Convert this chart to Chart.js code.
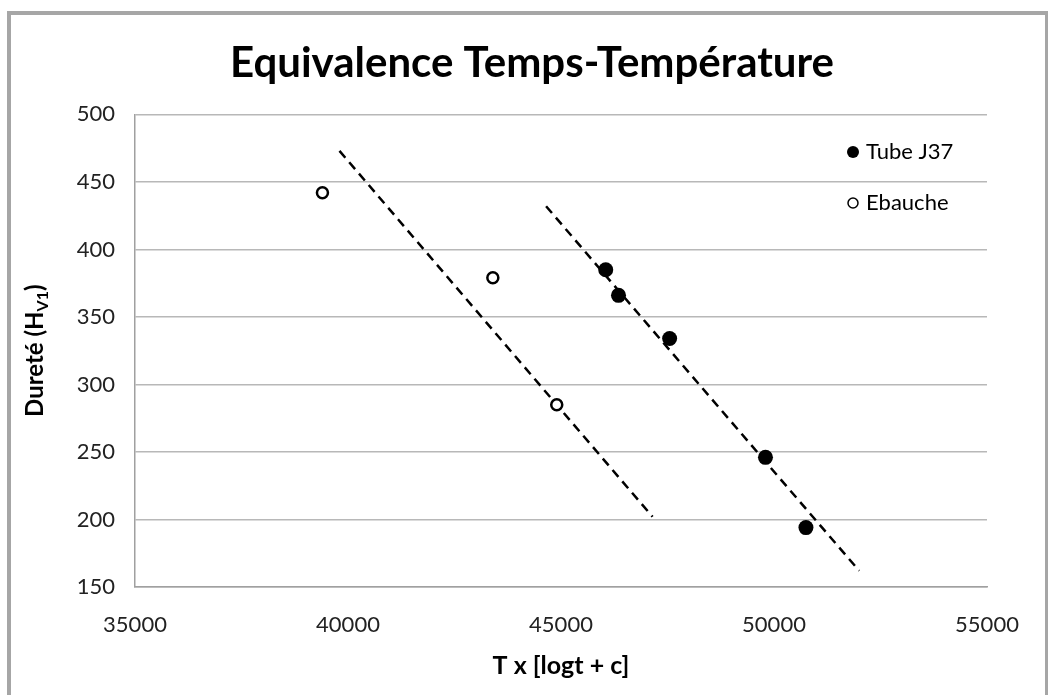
<!DOCTYPE html>
<html>
<head>
<meta charset="utf-8">
<script src="https://cdn.jsdelivr.net/npm/chart.js@4.4.0/dist/chart.umd.min.js"></script>
<style>
body { margin: 0; background: #fff; }
#frame { position: absolute; left: 7px; top: 11px; width: 1034px; height: 720px; border: 4px solid #a6a6a6; }
#wrap { position: absolute; left: 0; top: 0; width: 1048px; height: 695px; }
</style>
</head>
<body>
<div id="frame"></div>
<div id="wrap"><canvas id="chart"></canvas></div>
<script>
var chartTitle = 'Equivalence Temps-Température';
var xTitle = 'T x [logt + c]';

var tubeX = [46050, 46350, 47550, 49800, 50750];
var tubeY = [385, 366, 334, 246, 194];
var ebaucheX = [39400, 43400, 44900];
var ebaucheY = [442, 379, 285];

// trend lines, end points
var tubeTrendX = [44650, 52000];
var tubeTrendY = [432, 162];
var ebaucheTrendX = [39800, 47150];
var ebaucheTrendY = [473, 202];

var xTicks = [35000, 40000, 45000, 50000, 55000];
var yTicks = [150, 200, 250, 300, 350, 400, 450, 500];

function toPoints(xs, ys) {
    return xs.map(function (x, i) { return { x: x, y: ys[i] }; });
}

var FONT = 'Lato, "Open Sans", sans-serif';

// y title with subscript, and the legend inside the plot
var overlay = {
    id: 'overlay',
    afterDraw: function (chart) {
        var ctx = chart.ctx;
        ctx.save();
        ctx.fillStyle = '#000';
        ctx.textBaseline = 'alphabetic';

        // y axis title: Dureté (H V1 )
        var area = chart.chartArea;
        ctx.translate(43, (area.top + area.bottom) / 2);
        ctx.rotate(-Math.PI / 2);
        var big = 'bold 24px ' + FONT, small = 'bold 16px ' + FONT;
        ctx.font = big;
        var w1 = ctx.measureText('Dureté (H').width;
        var w3 = ctx.measureText(')').width;
        ctx.font = small;
        var w2 = ctx.measureText('V1').width;
        var x0 = -(w1 + w2 + w3) / 2;
        ctx.font = big;
        ctx.fillText('Dureté (H', x0, 0);
        ctx.font = small;
        ctx.fillText('V1', x0 + w1, 5);
        ctx.font = big;
        ctx.fillText(')', x0 + w1 + w2, 0);
        ctx.setTransform(1, 0, 0, 1, 0, 0);

        // legend
        ctx.font = '22px ' + FONT;
        ctx.textBaseline = 'middle';
        ctx.fillStyle = '#000';
        ctx.beginPath();
        ctx.arc(853, 152, 6, 0, Math.PI * 2);
        ctx.fill();
        ctx.fillText('Tube J37', 866, 152);
        ctx.beginPath();
        ctx.arc(853, 203, 5, 0, Math.PI * 2);
        ctx.lineWidth = 1.5;
        ctx.strokeStyle = '#000';
        ctx.stroke();
        ctx.fillText('Ebauche', 866, 203);
        ctx.restore();
    }
};

var chart = new Chart(document.getElementById('chart'), {
    type: 'scatter',
    data: {
        datasets: [{
            label: 'Tube J37',
            data: toPoints(tubeX, tubeY),
            backgroundColor: '#000',
            borderColor: '#000',
            pointRadius: 7.5,
            pointBorderWidth: 0
        }, {
            label: 'Ebauche',
            data: toPoints(ebaucheX, ebaucheY),
            backgroundColor: '#fff',
            borderColor: '#000',
            pointRadius: 5.5,
            pointBorderWidth: 2.5
        }, {
            label: 'Tendance Tube J37',
            data: toPoints(tubeTrendX, tubeTrendY),
            showLine: true,
            borderColor: '#000',
            borderWidth: 2.5,
            borderDash: [9, 6],
            pointRadius: 0
        }, {
            label: 'Tendance Ebauche',
            data: toPoints(ebaucheTrendX, ebaucheTrendY),
            showLine: true,
            borderColor: '#000',
            borderWidth: 2.5,
            borderDash: [9, 6],
            pointRadius: 0
        }]
    },
    options: {
        responsive: true,
        maintainAspectRatio: false,
        animation: false,
        layout: { padding: { left: 16, right: 0, top: 0, bottom: 0 } },
        plugins: {
            legend: { display: false },
            tooltip: { enabled: false },
            title: {
                display: true,
                text: chartTitle,
                color: '#000',
                font: { family: FONT, size: 42, weight: 'bold' },
                padding: { top: 38, bottom: 26 }
            }
        },
        scales: {
            x: {
                type: 'linear',
                min: 35000,
                max: 55000,
                afterBuildTicks: function (s) { s.ticks = xTicks.map(function (v) { return { value: v }; }); },
                afterFit: function (s) { s.height = 108; s.paddingRight = 61; },
                grid: { display: false },
                border: { display: true, color: '#a0a0a0', width: 1.5 },
                ticks: {
                    color: '#222',
                    font: { family: FONT, size: 22 },
                    padding: 17,
                    maxRotation: 0,
                    callback: function (v) { return String(v); }
                },
                title: {
                    display: true,
                    text: xTitle,
                    color: '#000',
                    font: { family: FONT, size: 25, weight: 'bold' },
                    padding: { top: 0, bottom: 14 }
                }
            },
            y: {
                min: 150,
                max: 500,
                afterBuildTicks: function (s) { s.ticks = yTicks.map(function (v) { return { value: v }; }); },
                afterFit: function (s) { s.width = 119; },
                grid: { color: '#b8b8b8', lineWidth: 1.5, drawTicks: false },
                border: { display: true, color: '#a0a0a0', width: 1.5 },
                ticks: {
                    color: '#222',
                    font: { family: FONT, size: 22 },
                    padding: 20,
                    callback: function (v) { return String(v); }
                }
            }
        }
    },
    plugins: [overlay]
});
</script>
</body>
</html>
